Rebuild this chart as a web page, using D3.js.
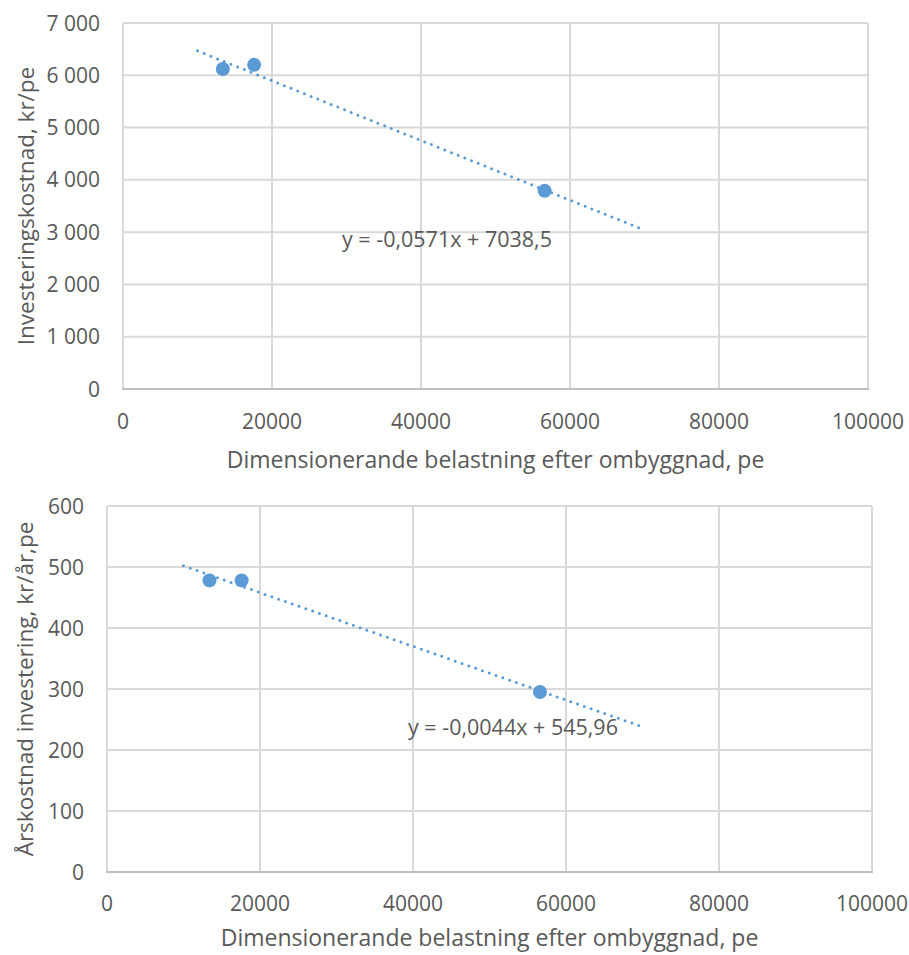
<!DOCTYPE html>
<html>
<head>
<meta charset="utf-8">
<script src="https://cdn.jsdelivr.net/npm/d3@7"></script>
<style>
  body { margin: 0; background: #fff; }
  svg text { font-family: "Open Sans", "Liberation Sans", sans-serif; fill: #595959; }
</style>
</head>
<body>
<svg></svg>
<script>
// dimensionerande belastning (pe) for the three plants
var loadPe = [13400, 17600, 56600];
// investeringskostnad, kr/pe
var investCost = [6120, 6200, 3790];
// årskostnad investering, kr/år,pe
var annualCost = [478, 478, 295];

// linear trend lines as drawn (x from / to, y from / to)
var trendX = [10000, 70000];
var trendInvest = [6467, 3041];
var trendAnnual = [502, 238];
var eqInvest = 'y = -0,0571x + 7038,5';
var eqAnnual = 'y = -0,0044x + 545,96';

var xTicks = [0, 20000, 40000, 60000, 80000, 100000];
var investTicks = [0, 1000, 2000, 3000, 4000, 5000, 6000, 7000];
var annualTicks = [0, 100, 200, 300, 400, 500, 600];

var xTitle = 'Dimensionerande belastning efter ombyggnad, pe';

var width = 909;
var height = 955;
var blue = '#5b9bd5';
var grid = '#d9d9d9';

var svg = d3.select('svg')
  .attr('width', width)
  .attr('height', height);

var sv = d3.formatLocale({ decimal: ',', thousands: '\u00a0', grouping: [3], currency: ['', ' kr'] });

drawChart({
  left: 123, right: 868, top: 23, bottom: 389,
  yMax: 7000, yTicks: investTicks, yFormat: sv.format(',d'),
  values: investCost, trend: trendInvest, eq: eqInvest, eqX: 342, eqY: 247,
  yTitle: 'Investeringskostnad, kr/pe', yTitleX: 34,
  tickGap: 40, titleGap: 79
});

drawChart({
  left: 107, right: 872, top: 506, bottom: 872,
  yMax: 600, yTicks: annualTicks, yFormat: d3.format('d'),
  values: annualCost, trend: trendAnnual, eq: eqAnnual, eqX: 408, eqY: 735,
  yTitle: 'Årskostnad investering, kr/år,pe', yTitleX: 33,
  tickGap: 39, titleGap: 74
});

function drawChart(c) {
  var x = d3.scaleLinear().domain([0, 100000]).range([c.left, c.right]);
  var y = d3.scaleLinear().domain([0, c.yMax]).range([c.bottom, c.top]);
  var g = svg.append('g');

  // gridlines
  g.append('g').selectAll('line.h')
    .data(c.yTicks.filter(d => d > 0))
    .enter().append('line')
      .attr('x1', c.left).attr('x2', c.right)
      .attr('y1', d => y(d)).attr('y2', d => y(d))
      .attr('stroke', grid).attr('stroke-width', 2);

  g.append('g').selectAll('line.v')
    .data(xTicks)
    .enter().append('line')
      .attr('x1', d => x(d)).attr('x2', d => x(d))
      .attr('y1', c.top).attr('y2', c.bottom)
      .attr('stroke', grid).attr('stroke-width', 2);

  // x axis line
  g.append('line')
    .attr('x1', c.left - 1).attr('x2', c.right + 1)
    .attr('y1', c.bottom).attr('y2', c.bottom)
    .attr('stroke', '#bfbfbf').attr('stroke-width', 2);

  // tick labels
  g.append('g').selectAll('text')
    .data(c.yTicks)
    .enter().append('text')
      .attr('x', c.left - 23)
      .attr('y', d => y(d))
      .attr('dy', '0.36em')
      .attr('text-anchor', 'end')
      .style('font-size', '21px')
      .text(c.yFormat);

  g.append('g').selectAll('text')
    .data(xTicks)
    .enter().append('text')
      .attr('x', d => x(d))
      .attr('y', c.bottom + c.tickGap)
      .attr('text-anchor', 'middle')
      .style('font-size', '21px')
      .text(d3.format('d'));

  // axis titles
  g.append('text')
    .attr('x', (c.left + c.right) / 2)
    .attr('y', c.bottom + c.titleGap)
    .attr('text-anchor', 'middle')
    .style('font-size', '23px')
    .text(xTitle);

  g.append('text')
    .attr('transform', 'translate(' + c.yTitleX + ',' + (c.top + c.bottom) / 2 + ') rotate(-90)')
    .attr('text-anchor', 'middle')
    .style('font-size', '22.5px')
    .text(c.yTitle);

  // trend line
  g.append('line')
    .attr('x1', x(trendX[0])).attr('y1', y(c.trend[0]))
    .attr('x2', x(trendX[1])).attr('y2', y(c.trend[1]))
    .attr('stroke', blue)
    .attr('stroke-width', 3)
    .attr('stroke-linecap', 'round')
    .attr('stroke-dasharray', '0 7.2');

  // points
  g.append('g').selectAll('circle')
    .data(c.values)
    .enter().append('circle')
      .attr('cx', (d, i) => x(loadPe[i]))
      .attr('cy', d => y(d))
      .attr('r', 7)
      .attr('fill', blue);

  // equation label
  g.append('text')
    .attr('x', c.eqX)
    .attr('y', c.eqY)
    .style('font-size', '21.5px')
    .text(c.eq);
}
</script>
</body>
</html>
